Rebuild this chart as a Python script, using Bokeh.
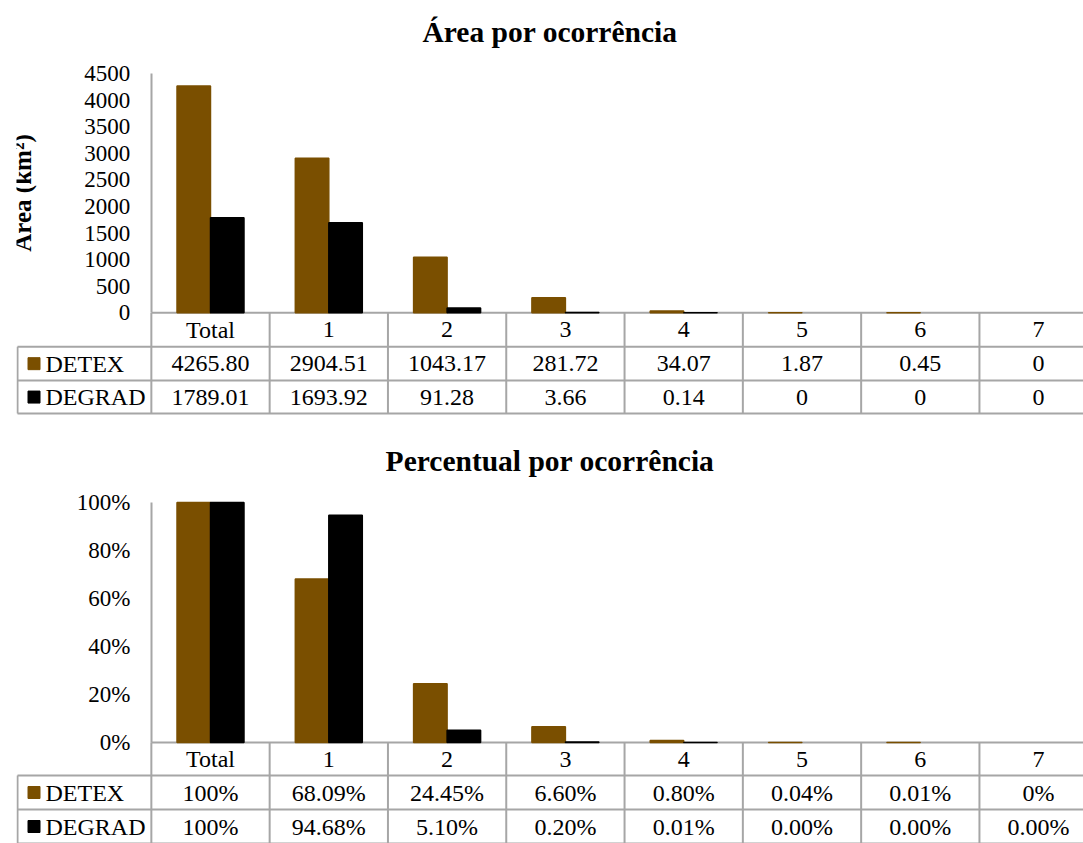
import numpy as np
from bokeh.plotting import figure
from bokeh.layouts import column
from bokeh.models import Range1d, FixedTicker, ColumnDataSource, LabelSet
from bokeh.embed import file_html
from bokeh.resources import INLINE

# ---- data -------------------------------------------------------------
categories = ["Total", "1", "2", "3", "4", "5", "6", "7"]
series_names = ["DETEX", "DEGRAD"]
series_colors = ["#7a4f00", "#000000"]

area_detex = [4265.80, 2904.51, 1043.17, 281.72, 34.07, 1.87, 0.45, 0]
area_degrad = [1789.01, 1693.92, 91.28, 3.66, 0.14, 0, 0, 0]

pct_detex_labels = ["100%", "68.09%", "24.45%", "6.60%", "0.80%", "0.04%", "0.01%", "0%"]
pct_degrad_labels = ["100%", "94.68%", "5.10%", "0.20%", "0.01%", "0.00%", "0.00%", "0.00%"]

area_ticks = [0, 500, 1000, 1500, 2000, 2500, 3000, 3500, 4000, 4500]
area_tick_labels = ["0", "500", "1000", "1500", "2000", "2500", "3000", "3500", "4000", "4500"]
pct_ticks = [0, 20, 40, 60, 80, 100]
pct_tick_labels = ["0%", "20%", "40%", "60%", "80%", "100%"]

# ---- layout constants (pixels) ------------------------------------------
FIG_W = 1083
FRAME_LEFT = 16
COL_W = 118.3          # width of one category column
FIRST_CENTER = 210     # centre of the "Total" column
AXIS_PX = FIRST_CENTER - COL_W / 2
LEGEND_LEFT = 17
BAR_W = 0.283
BAR_OFF = 0.1416
SERIF = "'Times New Roman', 'Liberation Serif', serif"
GRID = "#a6a6a6"
TICK_SIZE = "23px"
TABLE_SIZE = "24px"


def fmt_area(v):
    return "0" if v == 0 else f"{v:.2f}"


def build_panel(title, height, frame_top, zero_px, top_px, ymax, ticks, tick_labels,
                vals, texts, ylabel=None, rows=None):
    u = ymax / (zero_px - top_px)
    p = figure(width=FIG_W, height=height, output_backend="svg", toolbar_location=None,
               x_range=Range1d((FRAME_LEFT - FIRST_CENTER) / COL_W, (FIG_W - FIRST_CENTER) / COL_W),
               y_range=Range1d(-(height - zero_px) * u, (zero_px - frame_top) * u),
               x_axis_location=None,
               min_border_left=FRAME_LEFT, min_border_right=0, min_border_bottom=0,
               min_border_top=frame_top)
    p.extra_x_ranges = {"px": Range1d(FRAME_LEFT, FIG_W)}
    p.extra_y_ranges = {"py": Range1d(height, frame_top)}
    p.outline_line_color = None
    p.xgrid.visible = False
    p.ygrid.visible = False
    p.background_fill_color = "white"
    p.border_fill_color = "white"

    p.title.text = title
    p.title.align = "center"
    p.title.text_font = SERIF
    p.title.text_font_size = "29.5px"
    p.title.text_font_style = "bold"
    p.title.text_color = "black"
    p.title.standoff = 27

    ax = p.yaxis[0]
    ax.fixed_location = -0.5
    ax.bounds = (0, ymax)
    ax.ticker = FixedTicker(ticks=ticks)
    ax.major_label_overrides = {t: lab for t, lab in zip(ticks, tick_labels)}
    ax.axis_line_color = GRID
    ax.axis_line_width = 2
    ax.major_tick_line_color = None
    ax.minor_tick_line_color = None
    ax.major_tick_out = 0
    ax.major_tick_in = 0
    ax.major_label_standoff = 21
    ax.major_label_text_font = SERIF
    ax.major_label_text_font_size = TICK_SIZE
    ax.major_label_text_color = "black"
    if ylabel:
        ax.axis_label = ylabel
        ax.axis_label_text_font = SERIF
        ax.axis_label_text_font_size = "25px"
        ax.axis_label_text_font_style = "bold"
        ax.axis_label_text_color = "black"
        ax.axis_label_standoff = 46

    # data table grid under the chart
    r0, r1, r2, r3 = rows
    edges = [AXIS_PX + COL_W * k for k in range(len(categories) + 1)]
    x0s = [AXIS_PX, LEGEND_LEFT, LEGEND_LEFT, LEGEND_LEFT]
    x1s = [FIG_W] * 4
    y0s = [r0, r1, r2, r3]
    y1s = [r0, r1, r2, r3]
    for e in edges:
        x0s.append(e); x1s.append(e); y0s.append(r0); y1s.append(r3)
    x0s.append(LEGEND_LEFT); x1s.append(LEGEND_LEFT); y0s.append(r1); y1s.append(r3)
    p.segment(x0=x0s, y0=y0s, x1=x1s, y1=y1s, line_color=GRID, line_width=2,
              x_range_name="px", y_range_name="py")

    # grouped bars
    xs = np.arange(len(categories))
    for k, (name, color, v) in enumerate(zip(series_names, series_colors, vals)):
        v = np.asarray(v, dtype=float)
        src = ColumnDataSource(dict(x=xs + (2 * k - 1) * BAR_OFF, top=v,
                                    lc=[color if t > 0 else None for t in v]))
        p.vbar(x="x", top="top", bottom=0, width=BAR_W, source=src,
               fill_color=color, line_color="lc", line_width=1.5)

    # table texts
    centers = [FIRST_CENTER + COL_W * i for i in range(len(categories))]
    row_mid = [(r0 + r1) / 2, (r1 + r2) / 2, (r2 + r3) / 2]
    n = len(categories)
    cells = ColumnDataSource(dict(
        x=centers * 3,
        y=[row_mid[0]] * n + [row_mid[1]] * n + [row_mid[2]] * n,
        t=list(categories) + list(texts[0]) + list(texts[1]),
    ))
    p.add_layout(LabelSet(x="x", y="y", text="t", source=cells,
                          x_range_name="px", y_range_name="py",
                          text_font=SERIF, text_font_size=TABLE_SIZE,
                          text_align="center", text_baseline="middle", text_color="black"))

    # series keys in the first column
    p.scatter(x=[33.5, 33.5], y=row_mid[1:], marker="square", size=12,
              fill_color=series_colors, line_color=series_colors,
              x_range_name="px", y_range_name="py")
    keys = ColumnDataSource(dict(x=[45, 45], y=row_mid[1:], t=series_names))
    p.add_layout(LabelSet(x="x", y="y", text="t", source=keys,
                          x_range_name="px", y_range_name="py",
                          text_font=SERIF, text_font_size=TABLE_SIZE,
                          text_align="left", text_baseline="middle", text_color="black"))
    return p


area_texts = ([fmt_area(v) for v in area_detex], [fmt_area(v) for v in area_degrad])
p1 = build_panel("Área por ocorrência", 422, 60, 312, 72, 4500, area_ticks, area_tick_labels,
                 (area_detex, area_degrad), area_texts, ylabel="Área (km²)",
                 rows=(312, 346, 380, 413))

pct_detex = [float(s.rstrip("%")) for s in pct_detex_labels]
pct_degrad = [float(s.rstrip("%")) for s in pct_degrad_labels]
p2 = build_panel("Percentual por ocorrência", 421, 68, 320, 80, 100, pct_ticks, pct_tick_labels,
                 (pct_detex, pct_degrad), (pct_detex_labels, pct_degrad_labels),
                 rows=(320, 353, 387, 421))

layout = column(p1, p2, spacing=0)
open("out.html", "w").write(file_html(layout, INLINE))
